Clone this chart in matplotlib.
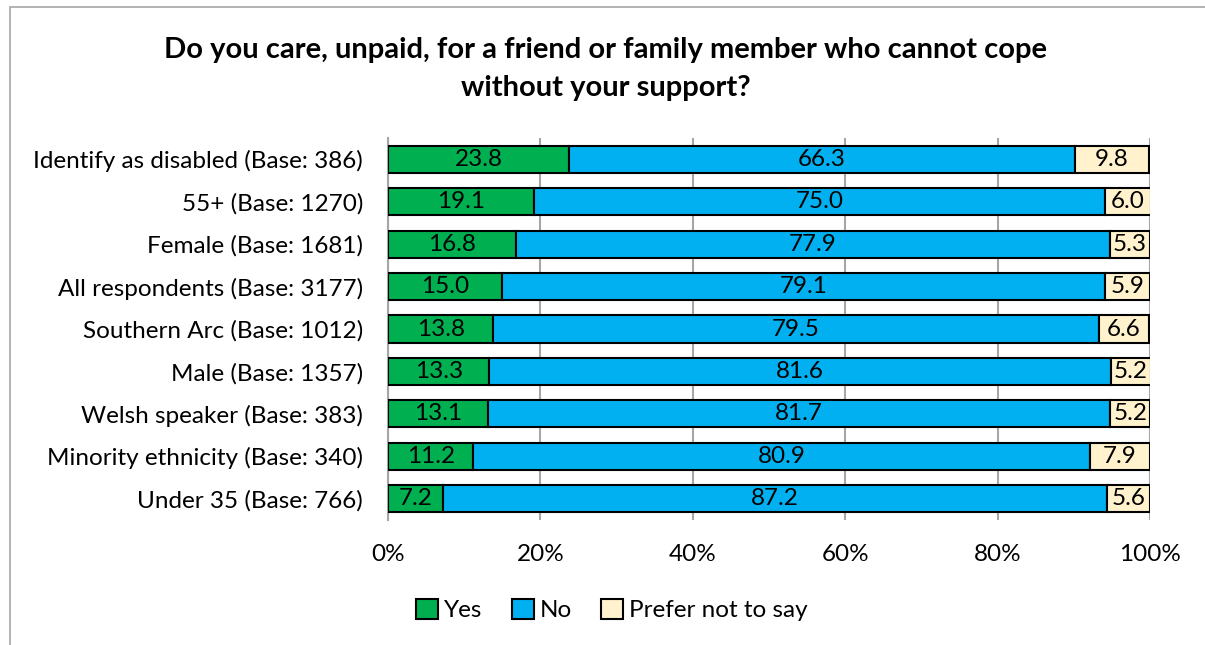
import matplotlib.pyplot as plt
from matplotlib.patches import Rectangle

plt.rcParams['font.family'] = ['Lato', 'DejaVu Sans']

categories = ['Identify as disabled (Base: 386)', '55+ (Base: 1270)', 'Female (Base: 1681)',
              'All respondents (Base: 3177)', 'Southern Arc (Base: 1012)', 'Male (Base: 1357)',
              'Welsh speaker (Base: 383)', 'Minority ethnicity (Base: 340)', 'Under 35 (Base: 766)']
yes = [23.8, 19.1, 16.8, 15.0, 13.8, 13.3, 13.1, 11.2, 7.2]
no = [66.3, 75.0, 77.9, 79.1, 79.5, 81.6, 81.7, 80.9, 87.2]
prefer_not = [9.8, 6.0, 5.3, 5.9, 6.6, 5.2, 5.2, 7.9, 5.6]
series_names = ['Yes', 'No', 'Prefer not to say']
colors = ['#00B050', '#00B0F0', '#FFF2CC']

FS = 17.5

fig = plt.figure(figsize=(12.05, 6.45), dpi=100)
ax = fig.add_axes([388 / 1205, 1 - 520 / 645, 762 / 1205, 382 / 645])

# outer chart border
fig.patches.append(Rectangle((10 / 1205, -0.1), 1.2, 1 - 7 / 645 + 0.1,
                             transform=fig.transFigure, fill=False,
                             edgecolor='#A6A6A6', linewidth=1.2))

ypos = list(range(len(categories)))
left = [0.0] * len(categories)
for vals, name, col in zip([yes, no, prefer_not], series_names, colors):
    ax.barh(ypos, vals, left=left, height=0.64, color=col, edgecolor='black',
            linewidth=1.5, label=name, zorder=3)
    for y, l, v in zip(ypos, left, vals):
        ax.text(l + v / 2, y, f'{v:.1f}', ha='center', va='center', fontsize=FS, zorder=4)
    left = [a + b for a, b in zip(left, vals)]

ax.set_xlim(0, 100)
ax.set_ylim(8.5, -0.5)
ax.set_yticks(ypos)
ax.set_yticklabels(categories, fontsize=FS)
ax.set_xticks([0, 20, 40, 60, 80, 100])
ax.set_xticklabels(['0%', '20%', '40%', '60%', '80%', '100%'], fontsize=FS)
ax.tick_params(axis='both', length=0)
ax.tick_params(axis='x', pad=17)
ax.tick_params(axis='y', pad=18)
ax.grid(axis='x', color='#A6A6A6', linewidth=1.5, zorder=0)
for s in ['top', 'right', 'bottom']:
    ax.spines[s].set_visible(False)
ax.spines['left'].set_color('#A6A6A6')
ax.spines['left'].set_linewidth(1.5)

fig.text(0.5025, 1 - 69 / 645, 'Do you care, unpaid, for a friend or family member who cannot cope\nwithout your support?',
         ha='center', va='center', fontsize=21, fontweight='bold', linespacing=1.55)

fig.legend(loc='center', bbox_to_anchor=(0.508, 1 - 610 / 645), ncol=3, frameon=False,
           fontsize=FS, handlelength=0.9, handleheight=0.9, handletextpad=0.25,
           columnspacing=1.2)

fig.savefig('out.png', dpi=100, facecolor='white')
